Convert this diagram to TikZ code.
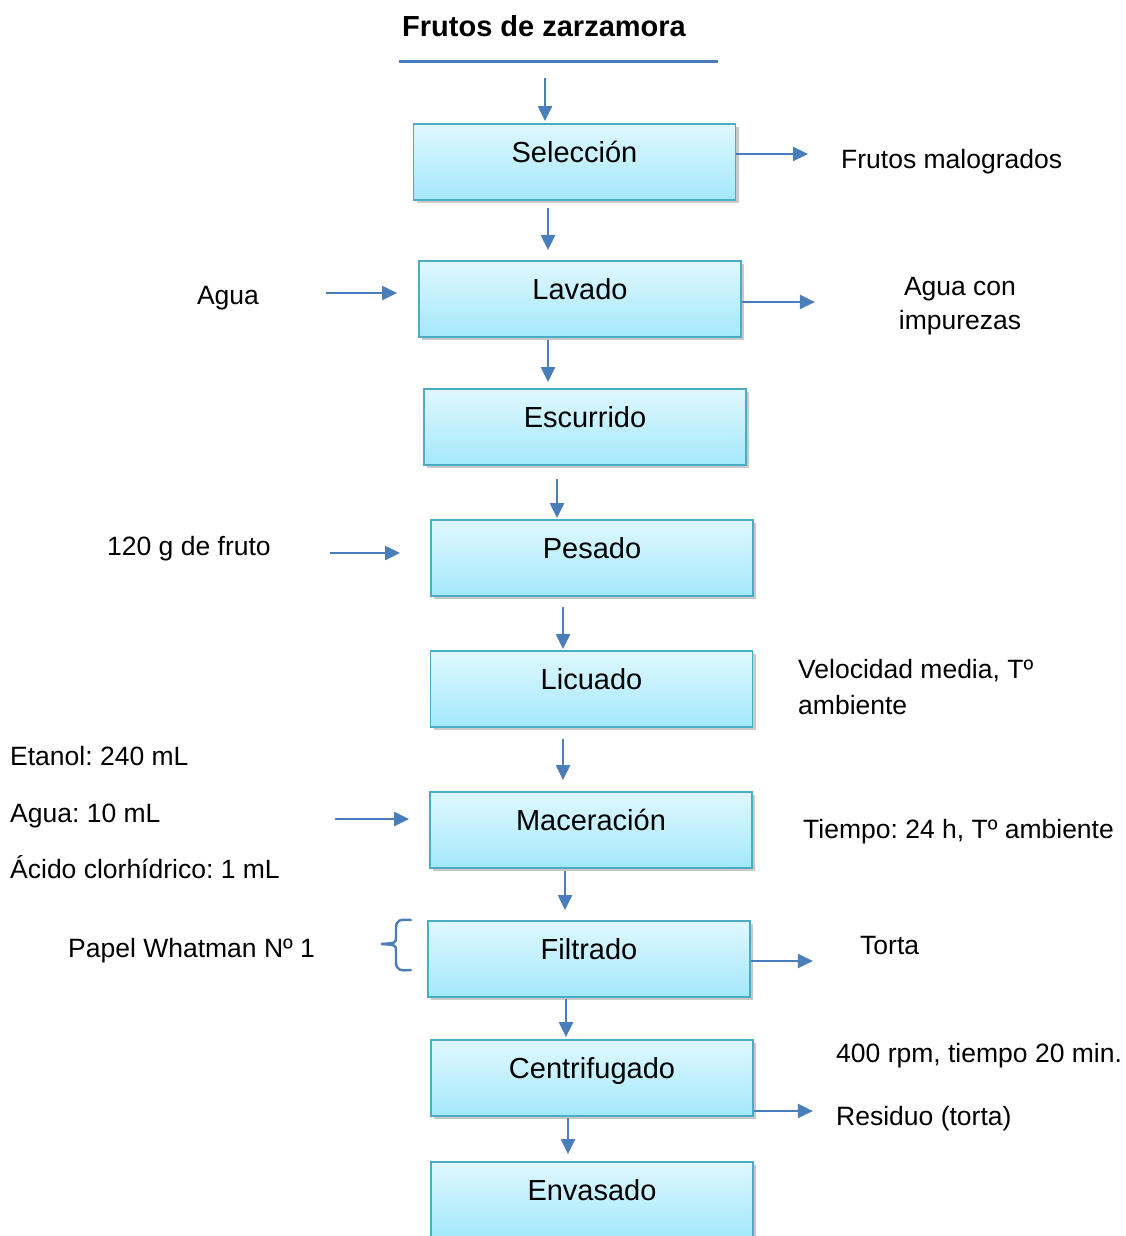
\documentclass[tikz,border=0pt]{standalone}
\usepackage{fontspec}
\setmainfont{Liberation Sans}
\usetikzlibrary{arrows.meta,shadows,calc}
\definecolor{arrblue}{HTML}{4A7EBB}
\definecolor{boxline}{HTML}{4BACC6}
\definecolor{boxtop}{HTML}{E0F8FF}
\definecolor{boxbot}{HTML}{A3E8FB}
\frenchspacing
\begin{document}
\frenchspacing
\begin{tikzpicture}[x=1pt,y=-1pt,
  stepbox/.style={draw=boxline, line width=1.8pt, top color=boxtop, bottom color=boxbot,
    minimum width=322pt, inner xsep=0pt, inner ysep=0pt, text height=38.5pt, text depth=37.5pt,
    font=\fontsize{29}{34}\selectfont,
    drop shadow={shadow xshift=3pt,shadow yshift=-3pt,opacity=0.35,fill=black!60}},
  note/.style={font=\fontsize{26.5}{32}\selectfont, inner sep=0pt, text height=19pt, text depth=5.5pt},
  notes/.style={inner sep=0pt},
  arr/.style={draw=arrblue, line width=2.2pt, -{Triangle[length=15pt,width=14pt]}},
]
\useasboundingbox[fill=white] (0,0) rectangle (1126,1236);

% title
\node[font=\bfseries\fontsize{29}{34}\selectfont, inner sep=0pt] (title) at (544,26) {Frutos de zarzamora};
\coordinate (l1) at (399,62);
\coordinate (l2) at (718,62);
\draw[arrblue, line width=3pt] (l1) -- (l2);
\coordinate (tl) at (545,78);

% boxes
\node[stepbox] (sel) at (574.5,162) {Selección};
\node[stepbox] (lav) at (580,299) {Lavado};
\node[stepbox] (esc) at (585,427) {Escurrido};
\node[stepbox] (pes) at (592,558) {Pesado};
\node[stepbox] (lic) at (591.5,689) {Licuado};
\node[stepbox] (mac) at (591,830) {Maceración};
\node[stepbox] (fil) at (589,959) {Filtrado};
\node[stepbox] (cen) at (592,1078) {Centrifugado};
\node[stepbox] (env) at (592,1200) {Envasado};

% side notes
\node[note, anchor=west] (fm) at (841,162) {Frutos malogrados};
\node[note] (agua) at (228,298) {Agua};
\node[notes, align=center, font=\fontsize{26.5}{34}\selectfont] (aci) at (960,306) {Agua con\\impurezas};
\node[note, anchor=west] (fruto) at (107,549) {120 g de fruto};
\node[notes, anchor=west, align=left, font=\fontsize{26.5}{36}\selectfont] (vel) at (798,687) {Velocidad media, Tº\\ambiente};
\node[notes, anchor=west, align=left, font=\fontsize{26.5}{56.5}\selectfont] (reag) at (10,813) {Etanol: 240 mL\\Agua: 10 mL\\Ácido clorhídrico: 1 mL};
\node[note, anchor=west] (tiempo) at (803,832) {Tiempo: 24 h, Tº ambiente};
\node[note, anchor=west] (papel) at (68,951) {Papel Whatman Nº 1};
\node[note, anchor=west] (torta) at (860,948) {Torta};
\node[note, anchor=west] (rpm) at (836,1056) {400 rpm, tiempo 20 min.};
\node[note, anchor=west] (res) at (836,1119) {Residuo (torta)};

% vertical arrows
\draw[arr] (tl) -- ([xshift=-29.5pt,yshift=2pt]sel.north);
\draw[arr] ([xshift=-26.5pt,yshift=-7pt]sel.south) -- ([xshift=-32pt,yshift=10pt]lav.north);
\draw[arr] ([xshift=-32pt,yshift=-2pt]lav.south) -- ([xshift=-37pt,yshift=6pt]esc.north);
\draw[arr] ([xshift=-28pt,yshift=-13pt]esc.south) -- ([xshift=-35pt,yshift=1pt]pes.north);
\draw[arr] ([xshift=-29pt,yshift=-10pt]pes.south) -- ([xshift=-28.5pt,yshift=1pt]lic.north);
\draw[arr] ([xshift=-28.5pt,yshift=-11pt]lic.south) -- ([xshift=-28pt,yshift=11pt]mac.north);
\draw[arr] ([xshift=-26pt,yshift=-2pt]mac.south) -- ([xshift=-24pt,yshift=10pt]fil.north);
\draw[arr] ([xshift=-23pt,yshift=-1pt]fil.south) -- ([xshift=-26pt,yshift=2pt]cen.north);
\draw[arr] ([xshift=-24pt,yshift=-1pt]cen.south) -- ([xshift=-24pt,yshift=7pt]env.north);

% horizontal arrows
\draw[arr] ([yshift=8pt]sel.east) -- ([xshift=-33pt,yshift=8pt]fm.west);
\draw[arr] ([xshift=67pt,yshift=5pt]agua.east) -- ([xshift=-21pt,yshift=6pt]lav.west);
\draw[arr] ([yshift=-3pt]lav.east) -- ([xshift=73pt,yshift=-3pt]lav.east);
\draw[arr] ([xshift=59pt,yshift=-4pt]fruto.east) -- ([xshift=-30pt,yshift=5pt]pes.west);
\draw[arr] ([xshift=55pt,yshift=-6pt]reag.east) -- ([xshift=-20pt,yshift=11pt]mac.west);
\draw[arr] ([yshift=-2pt]fil.east) -- ([xshift=62pt,yshift=-2pt]fil.east);
\draw[arr] ([yshift=-33pt]cen.east) -- ([xshift=59pt,yshift=-33pt]cen.east);

% brace
\draw[arrblue, line width=2.4pt, line cap=round]
  (411,920) .. controls (400,919) and (396,920) .. (396,928) -- (396,937)
  .. controls (396,943) .. (381,944) .. controls (396,945) .. (396,951) -- (396,962)
  .. controls (396,970) and (400,971) .. (411,970);
\end{tikzpicture}
\end{document}
